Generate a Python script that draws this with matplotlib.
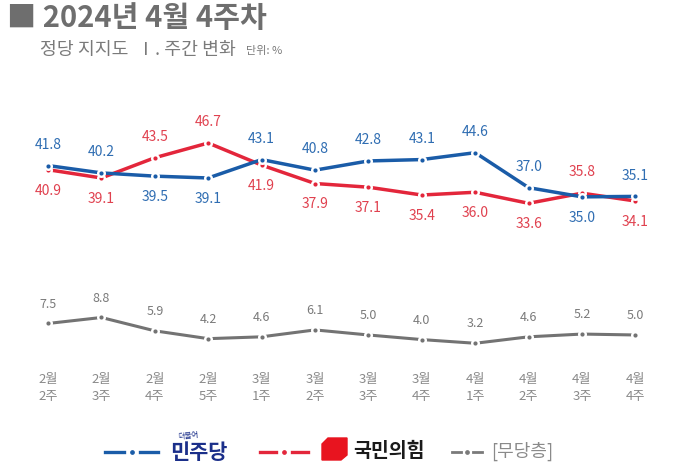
import matplotlib
matplotlib.use("Agg")
import matplotlib.pyplot as plt
from matplotlib.lines import Line2D
from matplotlib.patches import Polygon

plt.rcParams['font.family'] = ['Noto Sans CJK KR', 'DejaVu Sans']

weeks = ['2월\n2주', '2월\n3주', '2월\n4주', '2월\n5주', '3월\n1주', '3월\n2주',
         '3월\n3주', '3월\n4주', '4월\n1주', '4월\n2주', '4월\n3주', '4월\n4주']
minjoo = [41.8, 40.2, 39.5, 39.1, 43.1, 40.8, 42.8, 43.1, 44.6, 37.0, 35.0, 35.1]
ppp = [40.9, 39.1, 43.5, 46.7, 41.9, 37.9, 37.1, 35.4, 36.0, 33.6, 35.8, 34.1]
none = [7.5, 8.8, 5.9, 4.2, 4.6, 6.1, 5.0, 4.0, 3.2, 4.6, 5.2, 5.0]

# label above (+1) or below (-1) the point
minjoo_pos = [1, 1, -1, -1, 1, 1, 1, 1, 1, 1, -1, 1]
ppp_pos = [-1, -1, 1, 1, -1, -1, -1, -1, -1, -1, 1, -1]

BLUE = '#1a5ca8'
BLUE_TXT = '#2f6db2'
RED = '#e3263b'
RED_TXT = '#e0414f'
GRAY = '#737373'
GRAY_TXT = '#7a7a7a'

W, H = 700, 469
fig = plt.figure(figsize=(7, 4.69), dpi=100)


def fx(px):
    return px / W


def fy(py):
    return 1 - py / H


ax = fig.add_axes([fx(21.3), fy(358), fx(640.8), (358 - 127.8) / H])
ax.set_xlim(-0.5, 11.5)
ax.set_ylim(0, 50)
for s in ax.spines.values():
    s.set_visible(False)
ax.set_yticks([])
x = list(range(len(weeks)))
ax.set_xticks(x)
ax.set_xticklabels(weeks, fontsize=9.5, color='#8a8a8a', linespacing=1.35)
ax.tick_params(axis='x', length=0, pad=11)


def draw_series(vals, color, lw, z):
    ax.plot(x, vals, color=color, lw=lw, zorder=z, solid_capstyle='round')
    ax.scatter(x, vals, s=42, color='white', zorder=z + 0.1, linewidths=0)
    ax.scatter(x, vals, s=9, color=color, zorder=z + 0.2, linewidths=0)


draw_series(none, GRAY, 2.2, 2)
draw_series(ppp, RED, 2.5, 3)
draw_series(minjoo, BLUE, 2.5, 4)

for xi, v, p in zip(x, minjoo, minjoo_pos):
    ax.annotate(f'{v:.1f}', (xi, v), xytext=(0, 15 * p), textcoords='offset points',
                ha='center', va='center', fontsize=10, color=BLUE_TXT)
for xi, v, p in zip(x, ppp, ppp_pos):
    ax.annotate(f'{v:.1f}', (xi, v), xytext=(0, 15 * p), textcoords='offset points',
                ha='center', va='center', fontsize=10, color=RED_TXT)
for xi, v in zip(x, none):
    ax.annotate(f'{v:.1f}', (xi, v), xytext=(0, 14), textcoords='offset points',
                ha='center', va='center', fontsize=9, color=GRAY_TXT)

# title
fig.text(fx(7), fy(18), '■ 2024년 4월 4주차', fontsize=21, fontweight='bold',
         color='#6e6e6e', ha='left', va='center')
fig.text(fx(40), fy(50), '정당 지지도  Ⅰ. 주간 변화', fontsize=13.2,
         color='#7a7a7a', ha='left', va='center')
fig.text(fx(246), fy(51), '단위: %', fontsize=8, color='#7a7a7a',
         ha='left', va='center')


# legend
def legend_marker(x0, x1, yc, color, lw, gap):
    mid = (x0 + x1) / 2
    for a, b in [(x0, mid - gap), (mid + gap, x1)]:
        fig.add_artist(Line2D([fx(a), fx(b)], [fy(yc), fy(yc)], color=color, lw=lw,
                              transform=fig.transFigure))
    fig.add_artist(Line2D([fx(mid)], [fy(yc)], marker='o', ms=2.4, color=color,
                          transform=fig.transFigure))


ly = 452
legend_marker(105, 158, ly, BLUE, 2.4, 8)
fig.text(fx(170), fy(452), '민주당', fontsize=15, fontweight='bold', color='#1b2f8a',
         ha='left', va='center')
fig.text(fx(178), fy(436), '더불어', fontsize=5.5, color='#1b2f8a', ha='left',
         va='center', rotation=6)

legend_marker(260, 308, ly, RED, 2.4, 8)
shape = Polygon([[fx(328), fy(438)], [fx(347), fy(438)], [fx(347), fy(455)],
                 [fx(341), fy(460)], [fx(322), fy(460)], [fx(322), fy(444)]],
                closed=True, color='#e8141f', transform=fig.transFigure)
fig.add_artist(shape)
fig.text(fx(353), fy(451), '국민의힘', fontsize=14, fontweight='bold', color='#1a1a1a',
         ha='left', va='center')

legend_marker(452, 482, ly, '#7a7a7a', 2.0, 6)
fig.text(fx(491), fy(451), '[무당층]', fontsize=13, color='#8a8a8a',
         ha='left', va='center')

fig.savefig('out.png', dpi=100)
